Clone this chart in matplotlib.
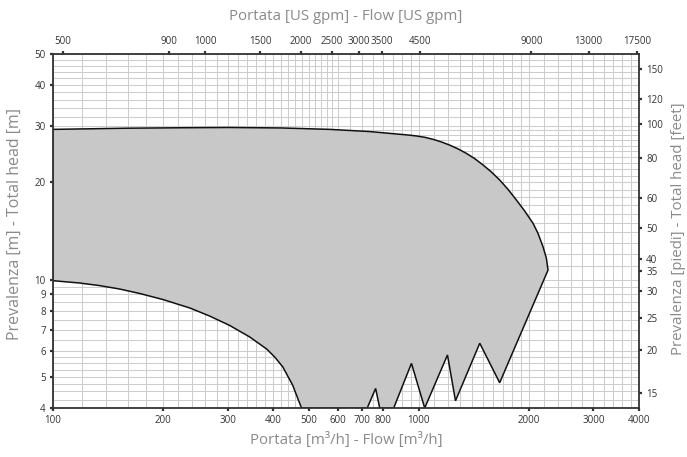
import matplotlib
matplotlib.use("Agg")
import matplotlib.pyplot as plt
import numpy as np
from matplotlib.ticker import FixedLocator, NullFormatter, FixedFormatter

# ---- data (flow in m3/h, head in m) ----
top_q = [100, 160, 230, 304, 420, 571, 734, 887, 935, 986, 1038, 1094, 1153, 1215, 1281,
         1350, 1422, 1499, 1580, 1665, 1754, 1849, 1948, 2053, 2118, 2186, 2233, 2256]
top_h = [29.2, 29.45, 29.55, 29.6, 29.5, 29.2, 28.75, 28.2, 28.05, 27.86, 27.6, 27.2, 26.7,
         26.1, 25.4, 24.6, 23.7, 22.65, 21.54, 20.34, 19.03, 17.64, 16.31, 14.94, 13.91,
         12.64, 11.64, 10.7]
saw_q = [1664, 1468, 1260, 1198, 1038, 955, 854, 782, 762, 723, 478]
saw_h = [4.79, 6.35, 4.21, 5.84, 4.0, 5.5, 4.0, 4.0, 4.6, 4.0, 4.0]
low_q = [464, 452, 438, 425, 404, 384, 345, 304, 268, 237, 200, 173, 152, 134, 118, 100]
low_h = [4.36, 4.71, 5.03, 5.36, 5.75, 6.09, 6.64, 7.21, 7.71, 8.16, 8.67, 9.05, 9.35,
         9.58, 9.76, 9.92]

x_ticks = [100, 200, 300, 400, 500, 600, 700, 800, 1000, 2000, 3000, 4000]
y_ticks = [4, 5, 6, 7, 8, 9, 10, 20, 30, 40, 50]
gpm_labels = ['500', '900', '1000', '1500', '2000', '2500', '3000', '3500', '4500', '9000', '13000', '17500']
gpm_pos = [106.5, 207.5, 261, 369, 476, 578, 686, 791, 1006, 2032, 2914, 3959]
ft_labels = ['150', '120', '100', '80', '60', '50', '40', '35', '30', '25', '20', '15']
ft_pos = [44.9, 36.2, 30.3, 23.85, 17.85, 14.48, 11.58, 10.65, 9.22, 7.59, 6.05, 4.46]

W, H = 687, 457
fig = plt.figure(figsize=(W / 100, H / 100), dpi=100)
L, R, T, B = 53, 639, 54, 408
ax = fig.add_axes([L / W, 1 - B / H, (R - L) / W, (B - T) / H])
ax.set_xscale('log')
ax.set_yscale('log')
ax.set_xlim(100, 4000)
ax.set_ylim(4, 50)

# grid
gx = np.concatenate([np.arange(120, 600, 20), np.arange(600, 1000, 50),
                     np.arange(1100, 2000, 100), np.arange(2200, 4000, 200)])
gy = np.concatenate([np.arange(4.25, 6.0, 0.25), np.arange(6.5, 10, 0.5),
                     np.arange(11, 30, 1), np.arange(32, 50, 2)])
ax.xaxis.set_minor_locator(FixedLocator(gx))
ax.yaxis.set_minor_locator(FixedLocator(gy))
ax.xaxis.set_minor_formatter(NullFormatter())
ax.yaxis.set_minor_formatter(NullFormatter())
ax.grid(True, which='both', color='#cdcdcd', lw=0.75)
ax.set_axisbelow(True)

tick_kw = dict(direction='out', length=2.2, width=1.6, color='#333333',
               labelsize=7, labelcolor='#333333', pad=3, labelfontfamily='Open Sans')
ax.xaxis.set_major_locator(FixedLocator(x_ticks))
ax.xaxis.set_major_formatter(FixedFormatter([str(v) for v in x_ticks]))
ax.yaxis.set_major_locator(FixedLocator(y_ticks))
ax.yaxis.set_major_formatter(FixedFormatter([str(v) for v in y_ticks]))
ax.tick_params(which='minor', length=0)
ax.tick_params(which='major', **tick_kw)

# envelope
qs = top_q + saw_q + low_q
hs = top_h + saw_h + low_h
ax.fill(qs, hs, facecolor='#c8c8c8', edgecolor='#111111', lw=1.1, zorder=2,
        joinstyle='miter')

for s in ax.spines.values():
    s.set_color('#333333')
    s.set_linewidth(1.3)
    s.set_zorder(5)

# top axis (US gpm)
axt = ax.twiny()
axt.set_xscale('log')
axt.set_xlim(100, 4000)
axt.xaxis.set_major_locator(FixedLocator(gpm_pos))
axt.xaxis.set_major_formatter(FixedFormatter(gpm_labels))
axt.xaxis.set_minor_locator(FixedLocator([]))
axt.tick_params(which='major', **tick_kw)

# right axis (feet)
axr = ax.twinx()
axr.set_yscale('log')
axr.set_ylim(4, 50)
axr.yaxis.set_major_locator(FixedLocator(ft_pos))
axr.yaxis.set_major_formatter(FixedFormatter(ft_labels))
axr.yaxis.set_minor_locator(FixedLocator([]))
axr.tick_params(which='major', **tick_kw)
for a in (axt, axr):
    for s in a.spines.values():
        s.set_visible(False)

lab = dict(family='Open Sans', size=10.8, color='#8a8a8a')
fig.text(346 / W, 1 - 440 / H, 'Portata [m³/h] - Flow [m³/h]', ha='center', va='center', **lab)
fig.text(346 / W, 1 - 17 / H, 'Portata [US gpm] - Flow [US gpm]', ha='center', va='center', **lab)
fig.text(15 / W, 1 - 224 / H, 'Prevalenza [m] - Total head [m]', ha='center', va='center', rotation=90,
         family='Open Sans', size=11.5, color='#8a8a8a')
fig.text(679 / W, 1 - 229 / H, 'Prevalenza [piedi] - Total head [feet]', ha='center', va='center', rotation=90, **lab)

fig.savefig('out.png', dpi=100)
